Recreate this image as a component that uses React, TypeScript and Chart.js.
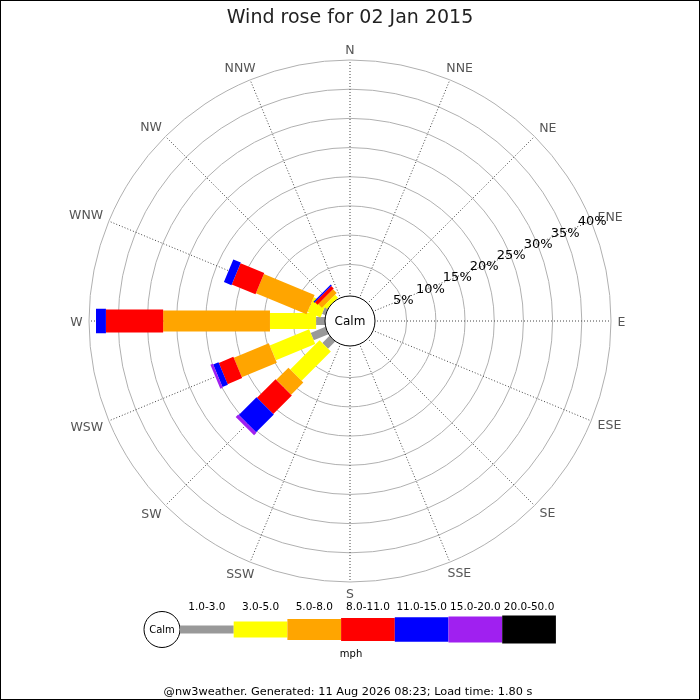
import { useEffect, useRef } from "react";
import { Chart, registerables } from "chart.js";

Chart.register(...registerables);

const directions = ["N", "NNE", "NE", "ENE", "E", "ESE", "SE", "SSE", "S", "SSW", "SW", "WSW", "W", "WNW", "NW", "NNW"];
const speedBins = ["1.0-3.0", "3.0-5.0", "5.0-8.0", "8.0-11.0", "11.0-15.0", "15.0-20.0", "20.0-50.0"];
const binColors = ["#999999", "#ffff00", "#ffa500", "#ff0000", "#0000ff", "#a020f0", "#000000"];
const binWidths = [8, 16, 21, 23, 24.5, 26, 28];

// percentage of time per direction (N ... NNW) for each speed bin
const speed1to3 = [0, 0, 0, 0, 0, 0, 0, 0, 0, 0, 1.3, 2.3, 1.1, 0.2, 0, 0];
const speed3to5 = [0, 0, 0, 0, 0, 0, 0, 0, 0, 0, 7.1, 7.3, 7.9, 2.4, 0.3, 0];
const speed5to8 = [0, 0, 0, 0, 0, 0, 0, 0, 0, 0, 2.95, 6.5, 18.3, 9.4, 0.9, 0];
const speed8to11 = [0, 0, 0, 0, 0, 0, 0, 0, 0, 0, 4.5, 2.7, 9.8, 4.4, 0.6, 0];
const speed11to15 = [0, 0, 0, 0, 0, 0, 0, 0, 0, 0, 4.3, 1.0, 1.7, 1.4, 0.25, 0];
const speed15to20 = [0, 0, 0, 0, 0, 0, 0, 0, 0, 0, 0.6, 0.45, 0, 0, 0, 0];
const speed20to50 = [0, 0, 0, 0, 0, 0, 0, 0, 0, 0, 0, 0, 0, 0, 0, 0];
const series = [speed1to3, speed3to5, speed5to8, speed8to11, speed11to15, speed15to20, speed20to50];

const radialTicks = [5, 10, 15, 20, 25, 30, 35, 40];
const axisMax = 40;
const axisMin = -4.71;
const tickLabelIndex = 3; // ENE

const titleText = "Wind rose for 02 Jan 2015";
const footerText = "@nw3weather. Generated: 11 Aug 2026 08:23; Load time: 1.80 s";
const unitText = "mph";
const calmText = "Calm";

const FONT = '"DejaVu Sans", sans-serif';

const roseDraw = {
  id: "roseDraw",
  afterDraw(chart: any) {
    const ctx: CanvasRenderingContext2D = chart.ctx;
    const s = chart.scales.r;
    const cx = s.xCenter;
    const cy = s.yCenter;
    const calmR = 25;
    ctx.save();

    // bars
    const n = directions.length;
    for (let i = 0; i < n; i++) {
      let cum = 0;
      const ang = s.getIndexAngle(i) - Math.PI / 2;
      const ux = Math.cos(ang);
      const uy = Math.sin(ang);
      const px = -uy;
      const py = ux;
      chart.data.datasets.forEach((ds: any, k: number) => {
        const v = ds.data[i] as number;
        if (!v) return;
        const r0 = cum === 0 ? calmR : s.getDistanceFromCenterForValue(cum);
        cum += v;
        const r1 = s.getDistanceFromCenterForValue(cum);
        const hw = binWidths[k] / 2;
        ctx.beginPath();
        ctx.moveTo(cx + ux * r0 + px * hw, cy + uy * r0 + py * hw);
        ctx.lineTo(cx + ux * r1 + px * hw, cy + uy * r1 + py * hw);
        ctx.lineTo(cx + ux * r1 - px * hw, cy + uy * r1 - py * hw);
        ctx.lineTo(cx + ux * r0 - px * hw, cy + uy * r0 - py * hw);
        ctx.closePath();
        ctx.fillStyle = binColors[k];
        ctx.fill();
      });
    }

    // calm circle
    ctx.beginPath();
    ctx.arc(cx, cy, calmR, 0, Math.PI * 2);
    ctx.fillStyle = "#fff";
    ctx.fill();
    ctx.lineWidth = 1;
    ctx.strokeStyle = "#000";
    ctx.stroke();
    ctx.fillStyle = "#000";
    ctx.font = `12px ${FONT}`;
    ctx.textAlign = "center";
    ctx.textBaseline = "middle";
    ctx.fillText(calmText, cx, cy + 1);

    // point labels, placed so the text box clears the outer ring
    ctx.font = `12.5px ${FONT}`;
    ctx.fillStyle = "#555";
    for (let i = 0; i < n; i++) {
      const ang = s.getIndexAngle(i) - Math.PI / 2;
      const c = Math.cos(ang);
      const sn = Math.sin(ang);
      const hw = ctx.measureText(directions[i]).width / 2;
      const hh = 4.5;
      const d = s.drawingArea + 6.5 + hw * Math.abs(c) + hh * Math.abs(sn);
      const p = s.getPointPosition(i, d);
      let x = p.x;
      let y = p.y;
      if (i % 4 === 0) {
        y += 1.5;
      } else {
        x += Math.sign(c) * 4.3 * sn * sn;
        y += sn < 0 ? 3.9 : -2.5;
      }
      ctx.fillText(directions[i], x, y);
    }

    // tick labels
    ctx.font = `13px ${FONT}`;
    ctx.fillStyle = "#000";
    radialTicks.forEach((t) => {
      const p = s.getPointPosition(tickLabelIndex, s.getDistanceFromCenterForValue(t));
      ctx.fillText(`${t}%`, p.x + 1, p.y + 1);
    });

    // title
    ctx.font = `19px ${FONT}`;
    ctx.fillStyle = "#222";
    ctx.fillText(titleText, 350, 18);

    // legend
    const lx = 162;
    const ly = 629.5;
    const lr = 18;
    ctx.beginPath();
    ctx.arc(lx, ly, lr, 0, Math.PI * 2);
    ctx.fillStyle = "#fff";
    ctx.fill();
    ctx.strokeStyle = "#000";
    ctx.lineWidth = 1;
    ctx.stroke();
    ctx.fillStyle = "#000";
    ctx.font = `10px ${FONT}`;
    ctx.fillText(calmText, lx, ly + 0.5);
    const segLen = 53.7;
    let x0 = lx + lr;
    speedBins.forEach((b, k) => {
      const h = binWidths[k];
      ctx.fillStyle = binColors[k];
      ctx.fillRect(x0, ly - h / 2, segLen, h);
      ctx.fillStyle = "#000";
      ctx.font = `10.5px ${FONT}`;
      ctx.fillText(b, x0 + segLen / 2, 607);
      x0 += segLen;
    });
    ctx.font = `10px ${FONT}`;
    ctx.fillText(unitText, 351, 654.5);

    // footer
    ctx.font = `11.3px ${FONT}`;
    ctx.fillStyle = "#000";
    ctx.fillText(footerText, 348, 692);

    // frame
    ctx.strokeStyle = "#000";
    ctx.lineWidth = 1;
    ctx.strokeRect(0.5, 0.5, 699, 699);

    ctx.restore();
  },
};

export default function App() {
  const ref = useRef<HTMLCanvasElement | null>(null);
  useEffect(() => {
    if (!ref.current) return;
    const chart = new Chart(ref.current, {
      type: "radar",
      data: {
        labels: directions,
        datasets: speedBins.map((b, k) => ({
          label: b,
          data: series[k],
          showLine: false,
          pointRadius: 0,
          pointHoverRadius: 0,
          borderWidth: 0,
          backgroundColor: "rgba(0,0,0,0)",
          borderColor: "rgba(0,0,0,0)",
          fill: false,
        })),
      },
      options: {
        responsive: false,
        animation: false,
        events: [],
        layout: { padding: { left: 89, right: 89, top: 60, bottom: 118 } },
        plugins: {
          legend: { display: false },
          tooltip: { enabled: false },
          title: { display: false },
        },
        scales: {
          r: {
            min: axisMin,
            max: axisMax,
            startAngle: 0,
            ticks: { display: false, stepSize: 5 },
            grid: {
              circular: true,
              color: (c: any) => (c.tick && c.tick.value > 0 ? "#b0b0b0" : "rgba(0,0,0,0)"),
              lineWidth: 1,
            },
            angleLines: { display: true, color: "#444", lineWidth: 1, borderDash: [1, 2] },
            pointLabels: { display: false },
          },
        },
      } as any,
      plugins: [roseDraw],
    });
    return () => chart.destroy();
  }, []);
  return (
    <div style={{ position: "absolute", left: 0, top: 0, width: 700, height: 700, background: "#fff" }}>
      <canvas ref={ref} width={700} height={700} style={{ display: "block" }} />
    </div>
  );
}
